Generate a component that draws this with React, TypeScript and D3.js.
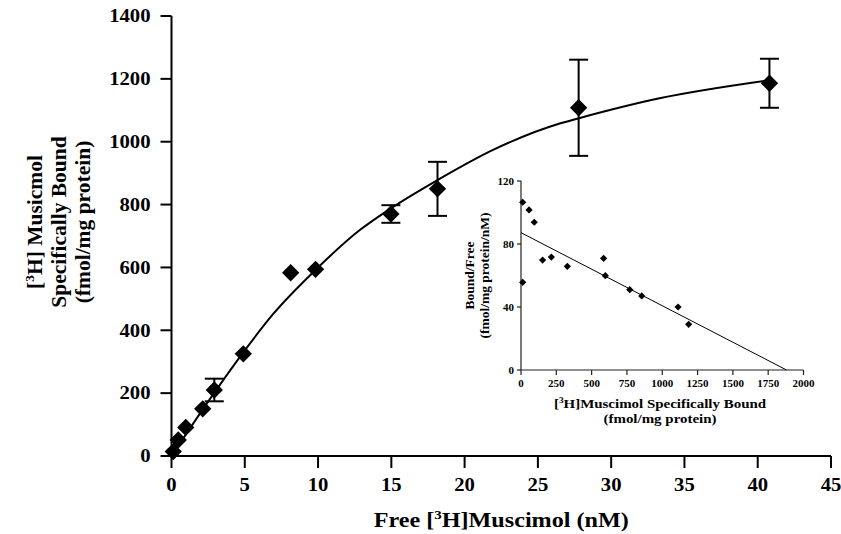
import React from "react";
import * as d3 from "d3";

// main saturation plot: free [3H]muscimol (nM) vs specifically bound (fmol/mg protein)
const freeConc = [0.12, 0.46, 0.97, 2.13, 2.92, 4.9, 8.13, 9.83, 14.97, 18.15, 27.78, 40.8];
const boundMean = [14, 51, 91, 150, 210, 325, 583, 594, 770, 850, 1108, 1186];
const boundErr = [0, 0, 0, 0, 36, 0, 0, 0, 28, 86, 153, 78];

// fitted saturation curve
const fitFree = [0, 2.9, 4.9, 6.94, 9.78, 12.85, 14.97, 18.15, 21.94, 26.49, 27.74, 33.3, 40.58];
const fitBound = [0, 200, 330, 452, 590, 719, 788, 878, 974, 1058, 1074, 1138, 1194];

// inset Scatchard plot
const scatBound = [12, 57, 94, 12, 153, 215, 328, 585, 597, 770, 855, 1112, 1187];
const scatRatio = [106.5, 101.6, 93.8, 55.7, 69.8, 71.7, 65.8, 70.9, 59.9, 51, 47, 40, 29];
const scatFitX = [0, 1880];
const scatFitY = [87.2, 0];

const mainXTicks = [0, 5, 10, 15, 20, 25, 30, 35, 40, 45];
const mainYTicks = [0, 200, 400, 600, 800, 1000, 1200, 1400];
const insetXTicks = [0, 250, 500, 750, 1000, 1250, 1500, 1750, 2000];
const insetYTicks = [0, 40, 80, 120];

const FONT = "'Liberation Serif', 'Times New Roman', serif";
// the scanned figure's lettering is a little wider than Times
const STRETCH = 1.15;

const Tritium = ({ size }: { size: number }) => (
  <>
    <tspan>[</tspan>
    <tspan fontSize={size * 0.62} dy={-size * 0.38}>3</tspan>
    <tspan dy={size * 0.38}>H]</tspan>
  </>
);

export default function App() {
  const width = 841;
  const height = 534;

  const x = d3.scaleLinear().domain([0, 45]).range([171.5, 831]);
  const y = d3.scaleLinear().domain([0, 1400]).range([456, 16]);

  const ix = d3.scaleLinear().domain([0, 2000]).range([521, 803.5]);
  const iy = d3.scaleLinear().domain([0, 120]).range([370, 181]);

  const fitLine = d3
    .line<number>()
    .x((d) => x(fitFree[d]))
    .y((d) => y(fitBound[d]))
    .curve(d3.curveMonotoneX);

  const bigDiamond = d3.symbol(d3.symbolSquare, 150)() as string;
  const smallDiamond = d3.symbol(d3.symbolSquare, 26)() as string;

  const at = (px: number, py: number) => `translate(${px},${py}) scale(${STRETCH},1)`;

  return (
    <svg
      width={width}
      height={height}
      style={{ position: "absolute", left: 0, top: 0, background: "#fff" }}
      fontFamily={FONT}
      fontWeight="bold"
    >
      {/* main axes */}
      <g stroke="#000" strokeWidth={2} fill="none">
        <line x1={x(0)} x2={x(0)} y1={y(1400)} y2={y(0)} />
        <line x1={x(0)} x2={x(45)} y1={y(0)} y2={y(0)} />
        {mainYTicks.map((t) => (
          <line key={"yt" + t} x1={x(0) - 11} x2={x(0)} y1={y(t)} y2={y(t)} />
        ))}
        {mainXTicks.map((t) => (
          <line key={"xt" + t} x1={x(t)} x2={x(t)} y1={y(0)} y2={y(0) + 12} />
        ))}
      </g>
      <g fontSize={18} fill="#000">
        {mainYTicks.map((t) => (
          <text key={"yl" + t} transform={at(x(0) - 21, y(t))} dy="0.35em" textAnchor="end">
            {t}
          </text>
        ))}
        {mainXTicks.map((t) => (
          <text key={"xl" + t} transform={at(x(t), y(0) + 35)} textAnchor="middle">
            {t}
          </text>
        ))}
      </g>
      <text transform={at((x(0) + x(45)) / 2, 527)} fontSize={21} textAnchor="middle">
        Free <Tritium size={21} />Muscimol (nM)
      </text>
      <g fontSize={21.5} textAnchor="middle" transform="translate(65,222) rotate(-90)">
        <text y={-23}>
          <Tritium size={21.5} /> Musicmol
        </text>
        <text y={1}>Specifically Bound</text>
        <text y={25}>(fmol/mg protein)</text>
      </g>

      {/* fitted curve */}
      <path d={fitLine(d3.range(fitFree.length)) as string} fill="none" stroke="#000" strokeWidth={2} />

      {/* error bars */}
      <g stroke="#000" strokeWidth={2}>
        {freeConc.map((f, i) =>
          boundErr[i] > 0 ? (
            <g key={"eb" + i}>
              <line x1={x(f)} x2={x(f)} y1={y(boundMean[i] - boundErr[i])} y2={y(boundMean[i] + boundErr[i])} />
              <line x1={x(f) - 9.5} x2={x(f) + 9.5} y1={y(boundMean[i] - boundErr[i])} y2={y(boundMean[i] - boundErr[i])} />
              <line x1={x(f) - 9.5} x2={x(f) + 9.5} y1={y(boundMean[i] + boundErr[i])} y2={y(boundMean[i] + boundErr[i])} />
            </g>
          ) : null
        )}
      </g>
      {freeConc.map((f, i) => (
        <path
          key={"pt" + i}
          d={bigDiamond}
          transform={`translate(${x(f)},${y(boundMean[i])}) rotate(45)`}
          fill="#000"
        />
      ))}

      {/* inset Scatchard plot */}
      <g stroke="#222" strokeWidth={1.2} fill="none">
        <line x1={ix(0)} x2={ix(0)} y1={iy(120)} y2={iy(0)} />
        <line x1={ix(0)} x2={ix(2000)} y1={iy(0)} y2={iy(0)} />
        {insetYTicks.map((t) => (
          <line key={"iyt" + t} x1={ix(0) - 4} x2={ix(0)} y1={iy(t)} y2={iy(t)} />
        ))}
        {insetXTicks.map((t) => (
          <line key={"ixt" + t} x1={ix(t)} x2={ix(t)} y1={iy(0)} y2={iy(0) + 5} />
        ))}
      </g>
      <g fontSize={11} fill="#000">
        {insetYTicks.map((t) => (
          <text key={"iyl" + t} x={ix(0) - 7} y={iy(t)} dy="0.35em" textAnchor="end">
            {t}
          </text>
        ))}
        {insetXTicks.map((t) => (
          <text key={"ixl" + t} x={ix(t)} y={iy(0) + 17} textAnchor="middle">
            {t}
          </text>
        ))}
      </g>
      <g fontSize={13.5} textAnchor="middle" transform={`translate(474,${(iy(0) + iy(120)) / 2}) rotate(-90)`}>
        <text y={0}>Bound/Free</text>
        <text y={15}>(fmol/mg protein/nM)</text>
      </g>
      <g fontSize={13} textAnchor="middle">
        <text transform={at(660, 408)}>
          <Tritium size={13} />Muscimol Specifically Bound
        </text>
        <text transform={at(660, 423)}>(fmol/mg protein)</text>
      </g>
      <line
        x1={ix(scatFitX[0])}
        y1={iy(scatFitY[0])}
        x2={ix(scatFitX[1])}
        y2={iy(scatFitY[1])}
        stroke="#000"
        strokeWidth={1}
      />
      {scatBound.map((b, i) => (
        <path
          key={"sp" + i}
          d={smallDiamond}
          transform={`translate(${ix(b)},${iy(scatRatio[i])}) rotate(45)`}
          fill="#000"
        />
      ))}
    </svg>
  );
}
